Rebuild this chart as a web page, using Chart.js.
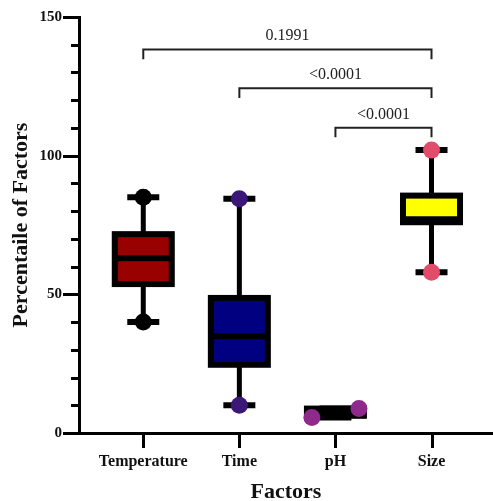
<!DOCTYPE html>
<html>
<head>
<meta charset="utf-8">
<script src="https://cdn.jsdelivr.net/npm/chart.js@4/dist/chart.umd.min.js"></script>
<style>
  html, body { margin: 0; padding: 0; background: #fff; }
  #wrap { width: 493px; height: 501px; }
</style>
</head>
<body>
<div id="wrap"><canvas id="c" width="493" height="501"></canvas></div>
<script>
// ---- data ----
const categories = ['Temperature', 'Time', 'pH', 'Size'];
const mins    = [40,   10,   5.6, 58];
const q1s     = [53.7, 24.6, 6.2, 76.0];
const medians = [63,   34.9, 7.5, 77.1];
const q3s     = [71.7, 48.7, 8.8, 85.6];
const maxs    = [85,   84.5, 8.8, 102];
const boxColors = ['#990000', '#000080', '#000000', '#ffff00'];
const dotColors = ['#000000', '#3b1878', '#8e2a8c', '#e04c6a'];
const dotJitter = [0, 0, 0.245, 0];   // horizontal spread of the two points (pH)
const yTicks = [0, 50, 100, 150];
// significance comparisons
const sigFrom   = [0, 1, 2];
const sigTo     = [3, 3, 3];
const sigLevel  = [138.3, 124.3, 110.1];
const sigLabels = ['0.1991', '<0.0001', '<0.0001'];

// ---- datasets for the end points ----
const pts = [];
const ptColors = [];
categories.forEach((c, i) => {
  pts.push({ x: i + 1 - dotJitter[i], y: mins[i] });
  ptColors.push(dotColors[i]);
  pts.push({ x: i + 1 + dotJitter[i], y: maxs[i] });
  ptColors.push(dotColors[i]);
});

const serif = "'Liberation Serif', 'Times New Roman', serif";

const boxPlugin = {
  id: 'boxes',
  beforeDatasetsDraw(chart) {
    const ctx = chart.ctx;
    const xs = chart.scales.x, ys = chart.scales.y;
    const boxW = 57, capW = 32;
    ctx.save();
    categories.forEach((c, i) => {
      const cx = xs.getPixelForValue(i + 1);
      const yMin = ys.getPixelForValue(mins[i]);
      const yMax = ys.getPixelForValue(maxs[i]);
      const yQ1 = ys.getPixelForValue(q1s[i]);
      const yQ3 = ys.getPixelForValue(q3s[i]);
      const yMed = ys.getPixelForValue(medians[i]);
      ctx.strokeStyle = '#000';
      ctx.lineCap = 'butt';
      ctx.lineWidth = 5;
      ctx.beginPath();
      ctx.moveTo(cx, yMin); ctx.lineTo(cx, yMax);
      ctx.stroke();
      ctx.lineWidth = 6;
      ctx.beginPath();
      ctx.moveTo(cx - capW / 2, yMin); ctx.lineTo(cx + capW / 2, yMin);
      ctx.moveTo(cx - capW / 2, yMax); ctx.lineTo(cx + capW / 2, yMax);
      ctx.stroke();
      ctx.fillStyle = boxColors[i];
      ctx.fillRect(cx - boxW / 2, yQ3, boxW, yQ1 - yQ3);
      ctx.lineWidth = 6;
      ctx.lineJoin = 'miter';
      ctx.strokeRect(cx - boxW / 2, yQ3, boxW, yQ1 - yQ3);
      ctx.beginPath();
      ctx.moveTo(cx - boxW / 2, yMed); ctx.lineTo(cx + boxW / 2, yMed);
      ctx.stroke();
    });
    ctx.restore();
  },
  afterDraw(chart) {
    const ctx = chart.ctx;
    const xs = chart.scales.x, ys = chart.scales.y;
    const area = chart.chartArea;
    ctx.save();
    ctx.strokeStyle = '#000';
    ctx.lineWidth = 3;
    ctx.beginPath();
    for (let v = ys.min; v <= ys.max; v += 10) {
      const y = Math.round(ys.getPixelForValue(v)) + 0.5;
      const len = (v % 50 === 0) ? 16 : 8;
      ctx.moveTo(area.left - len, y);
      ctx.lineTo(area.left, y);
    }
    categories.forEach((c, i) => {
      const x = Math.round(xs.getPixelForValue(i + 1)) + 0.5;
      ctx.moveTo(x, area.bottom);
      ctx.lineTo(x, area.bottom + 15);
    });
    ctx.stroke();
    ctx.strokeStyle = '#222';
    ctx.lineWidth = 2;
    ctx.fillStyle = '#222';
    ctx.font = '16px ' + serif;
    ctx.textAlign = 'center';
    ctx.textBaseline = 'alphabetic';
    sigFrom.forEach((f, k) => {
      const x1 = xs.getPixelForValue(f + 1);
      const x2 = xs.getPixelForValue(sigTo[k] + 1);
      const y = ys.getPixelForValue(sigLevel[k]);
      const yd = ys.getPixelForValue(sigLevel[k] - 3.5);
      ctx.beginPath();
      ctx.moveTo(x1, yd); ctx.lineTo(x1, y); ctx.lineTo(x2, y); ctx.lineTo(x2, yd);
      ctx.stroke();
      ctx.fillText(sigLabels[k], (x1 + x2) / 2, y - 9);
    });
    ctx.restore();
  }
};

function zeroPad(s) { s.paddingTop = 0; s.paddingBottom = 0; s.paddingLeft = 0; s.paddingRight = 0; }

new Chart(document.getElementById('c'), {
  type: 'scatter',
  data: {
    datasets: [{
      data: pts,
      pointRadius: 8.5,
      pointHoverRadius: 8.5,
      pointBackgroundColor: ptColors,
      pointBorderWidth: 0,
      showLine: false
    }]
  },
  options: {
    responsive: false,
    animation: false,
    events: [],
    layout: { autoPadding: false, padding: { top: 17, right: 0, left: 0, bottom: 0 } },
    plugins: { legend: { display: false }, tooltip: { enabled: false } },
    scales: {
      x: {
        type: 'linear',
        min: 0.331,
        max: 4.64,
        afterBuildTicks(s) { s.ticks = categories.map((c, i) => ({ value: i + 1 })); },
        afterFit(s) { s.height = 68; zeroPad(s); },
        ticks: {
          autoSkip: false,
          maxRotation: 0,
          padding: 19,
          color: '#111',
          font: { family: serif, size: 16, weight: 'bold' },
          callback: (v) => categories[v - 1]
        },
        grid: { display: true, drawOnChartArea: false, drawTicks: false },
        border: { display: true, color: '#000', width: 3 },
        title: {
          display: true,
          text: 'Factors',
          color: '#111',
          font: { family: serif, size: 22, weight: 'bold', lineHeight: 0.75 },
          padding: { top: 0, bottom: 0 }
        }
      },
      y: {
        min: 0,
        max: 150,
        afterBuildTicks(s) { s.ticks = yTicks.map(v => ({ value: v })); },
        afterFit(s) { s.width = 79; zeroPad(s); },
        ticks: {
          padding: 17,
          color: '#111',
          font: { family: serif, size: 15, weight: 'bold' }
        },
        grid: { display: true, drawOnChartArea: false, drawTicks: false },
        border: { display: true, color: '#000', width: 3 },
        title: {
          display: true,
          text: 'Percentaile of Factors',
          color: '#111',
          font: { family: serif, size: 22, weight: 'bold', lineHeight: 1.2 },
          padding: { top: 8, bottom: 0 }
        }
      }
    }
  },
  plugins: [boxPlugin]
});
</script>
</body>
</html>
